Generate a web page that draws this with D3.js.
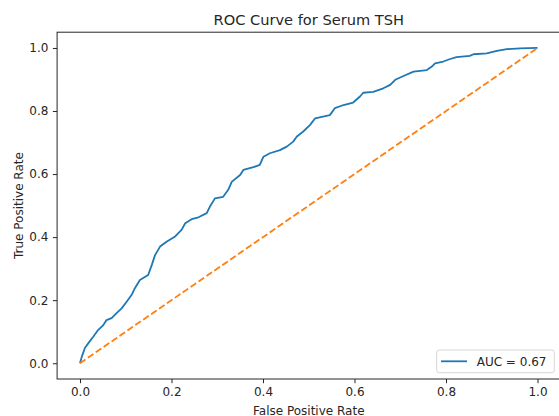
<!DOCTYPE html>
<html>
<head>
<meta charset="utf-8">
<script src="https://cdn.jsdelivr.net/npm/d3@7"></script>
<style>
  body { margin: 0; background: #fff; }
  text { font-family: "DejaVu Sans", sans-serif; fill: #262626; }
</style>
</head>
<body>
<script>
(function () {
  // values
  var fpr = [0, 0.004, 0.011, 0.018, 0.029, 0.040, 0.051, 0.058, 0.069, 0.080,
    0.091, 0.102, 0.113, 0.120, 0.131, 0.149, 0.157, 0.164, 0.175, 0.190,
    0.208, 0.222, 0.230, 0.244, 0.259, 0.277, 0.284, 0.295, 0.313, 0.324,
    0.332, 0.350, 0.357, 0.379, 0.393, 0.401, 0.415, 0.437, 0.452, 0.466,
    0.474, 0.488, 0.503, 0.514, 0.546, 0.557, 0.576, 0.597, 0.612, 0.619,
    0.641, 0.663, 0.678, 0.689, 0.707, 0.729, 0.758, 0.769, 0.776, 0.794,
    0.809, 0.823, 0.852, 0.860, 0.889, 0.911, 0.933, 0.962, 1];
  var tpr = [0, 0.021, 0.049, 0.063, 0.084, 0.106, 0.121, 0.137, 0.143, 0.159,
    0.174, 0.195, 0.217, 0.238, 0.264, 0.280, 0.312, 0.343, 0.370, 0.386,
    0.402, 0.423, 0.444, 0.457, 0.463, 0.476, 0.497, 0.523, 0.528, 0.550,
    0.576, 0.597, 0.613, 0.622, 0.629, 0.655, 0.666, 0.676, 0.687, 0.703,
    0.719, 0.735, 0.756, 0.777, 0.787, 0.809, 0.819, 0.827, 0.846, 0.858,
    0.861, 0.872, 0.883, 0.899, 0.911, 0.925, 0.930, 0.941, 0.951, 0.957,
    0.965, 0.971, 0.975, 0.980, 0.983, 0.991, 0.996, 0.999, 1];
  var chance = [0, 1];
  var ticks = [0, 0.2, 0.4, 0.6, 0.8, 1.0];
  var title = "ROC Curve for Serum TSH";
  var xLabel = "False Positive Rate";
  var yLabel = "True Positive Rate";
  var legendLabel = "AUC = 0.67";

  var W = 559, H = 416;
  var left = 57.1, right = 560.4, top = 32.2, bottom = 379;

  var x = d3.scaleLinear().domain([-0.05, 1.05]).range([left, right]);
  var y = d3.scaleLinear().domain([-0.05, 1.05]).range([bottom, top]);

  var svg = d3.select("body")
    .append("svg")
    .attr("width", W)
    .attr("height", H);

  var roc = fpr.map(function (d, i) { return [d, tpr[i]]; });
  var diag = chance.map(function (d) { return [d, d]; });

  var line = d3.line()
    .x(function (d) { return x(d[0]); })
    .y(function (d) { return y(d[1]); });

  svg.append("path")
    .datum(roc)
    .attr("d", line)
    .attr("fill", "none")
    .attr("stroke", "#1f77b4")
    .attr("stroke-width", 1.8)
    .attr("stroke-linejoin", "round");

  svg.append("path")
    .datum(diag)
    .attr("d", line)
    .attr("fill", "none")
    .attr("stroke", "#ff7f0e")
    .attr("stroke-width", 1.8)
    .attr("stroke-dasharray", "6.7,2.9");

  // axes
  var xAxis = d3.axisBottom(x).tickValues(ticks).tickSize(4.2).tickPadding(4.5)
    .tickFormat(d3.format(".1f"));
  var yAxis = d3.axisLeft(y).tickValues(ticks).tickSize(4.2).tickPadding(4.5)
    .tickFormat(d3.format(".1f"));

  var gx = svg.append("g").attr("transform", "translate(0," + bottom + ")").call(xAxis);
  var gy = svg.append("g").attr("transform", "translate(" + left + ",0)").call(yAxis);
  [gx, gy].forEach(function (g) {
    g.select(".domain").remove();
    g.selectAll(".tick line").attr("stroke", "#262626").attr("stroke-width", 1);
    g.selectAll(".tick text").style("font-size", "12px").attr("fill", "#262626");
  });

  svg.append("rect")
    .attr("x", left)
    .attr("y", top)
    .attr("width", right - left)
    .attr("height", bottom - top)
    .attr("fill", "none")
    .attr("stroke", "#262626")
    .attr("stroke-width", 1);

  svg.append("text")
    .attr("x", (left + right) / 2)
    .attr("y", 24.5)
    .attr("text-anchor", "middle")
    .style("font-size", "14.6px")
    .text(title);

  svg.append("text")
    .attr("x", (left + right) / 2)
    .attr("y", 414.5)
    .attr("text-anchor", "middle")
    .style("font-size", "12px")
    .text(xLabel);

  svg.append("text")
    .attr("transform", "translate(22.5," + (top + bottom) / 2 + ") rotate(-90)")
    .attr("text-anchor", "middle")
    .style("font-size", "12px")
    .text(yLabel);

  // legend
  var lg = svg.append("g");
  lg.append("rect")
    .attr("x", 436.7)
    .attr("y", 350)
    .attr("width", 117.6)
    .attr("height", 22.7)
    .attr("rx", 2.5)
    .attr("fill", "#fff")
    .attr("fill-opacity", 0.8)
    .attr("stroke", "#d6d6d6")
    .attr("stroke-width", 1);
  lg.append("line")
    .attr("x1", 441)
    .attr("x2", 467)
    .attr("y1", 361.3)
    .attr("y2", 361.3)
    .attr("stroke", "#1f77b4")
    .attr("stroke-width", 1.8);
  lg.append("text")
    .attr("x", 476.7)
    .attr("y", 365.6)
    .style("font-size", "12px")
    .text(legendLabel);
})();
</script>
</body>
</html>
